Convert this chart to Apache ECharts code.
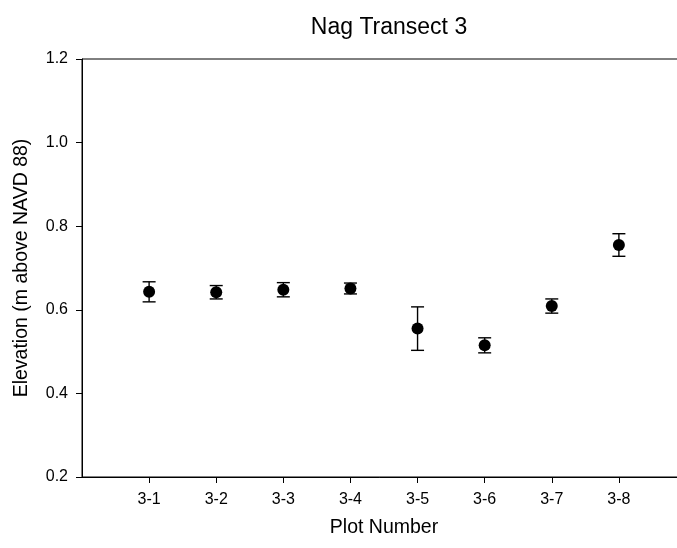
<!DOCTYPE html>
<html>
<head>
<meta charset="utf-8">
<script src="https://cdn.jsdelivr.net/npm/echarts@6/dist/echarts.min.js"></script>
<style>
  html, body { margin: 0; padding: 0; background: #fff; }
  #chart { width: 677px; height: 548px; }
</style>
</head>
<body>
<div id="chart"></div>
<script>
// Plot labels along the transect
const plots = ['3-1', '3-2', '3-3', '3-4', '3-5', '3-6', '3-7', '3-8'];
// Mean elevation per plot (m above NAVD 88)
const elevation = [0.643, 0.642, 0.648, 0.651, 0.555, 0.515, 0.609, 0.755];
// Error (±) per plot
const errors = [0.024, 0.016, 0.017, 0.013, 0.052, 0.018, 0.017, 0.027];
// Y axis tick values
const yTicks = [0.2, 0.4, 0.6, 0.8, 1.0, 1.2];

const FONT = "'Liberation Sans', Arial, sans-serif";
const positions = plots.map((_, i) => i + 1);

const points = positions.map((x, i) => [x, elevation[i]]);
const bars = positions.map((x, i) => [x, elevation[i] - errors[i], elevation[i] + errors[i]]);

const chart = echarts.init(document.getElementById('chart'), null, { renderer: 'canvas' });

chart.setOption({
  animation: false,
  backgroundColor: '#fff',
  title: {
    text: 'Nag Transect 3',
    left: 384,
    textAlign: 'center',
    top: 11,
    textStyle: { fontFamily: FONT, fontSize: 23, fontWeight: 'normal', color: '#000' }
  },
  // the frame runs past the right edge of the page
  grid: {
    left: 82, top: 59, width: 604, height: 418,
    outerBoundsMode: 'none',
    containLabel: false,
    show: true, borderColor: '#000', borderWidth: 1, backgroundColor: 'transparent'
  },
  xAxis: {
    type: 'value',
    min: 0, max: 9, interval: 1,
    name: 'Plot Number',
    nameLocation: 'middle',
    nameGap: 41,
    nameTextStyle: { fontFamily: FONT, fontSize: 19.5, color: '#000' },
    axisLine: { show: true, lineStyle: { color: '#000', width: 1 } },
    axisTick: { show: true, length: 6, lineStyle: { color: '#000' }, customValues: positions },
    axisLabel: {
      customValues: positions,
      margin: 15,
      fontFamily: FONT, fontSize: 16, color: '#000',
      formatter: v => plots[Math.round(v) - 1] || ''
    },
    splitLine: { show: false }
  },
  yAxis: {
    type: 'value',
    min: yTicks[0], max: yTicks[yTicks.length - 1], interval: 0.2,
    name: 'Elevation (m above NAVD 88)',
    nameLocation: 'middle',
    nameGap: 50,
    nameTextStyle: { fontFamily: FONT, fontSize: 19.5, color: '#000' },
    axisLine: { show: true, lineStyle: { color: '#000', width: 1 } },
    axisTick: { show: true, length: 6, lineStyle: { color: '#000' } },
    axisLabel: {
      margin: 14,
      fontFamily: FONT, fontSize: 16, color: '#000',
      formatter: v => v.toFixed(1)
    },
    splitLine: { show: false }
  },
  series: [
    {
      type: 'custom',
      name: 'error',
      data: bars,
      z: 2,
      clip: false,
      renderItem: (params, api) => {
        const x = api.value(0);
        const lo = api.coord([x, api.value(1)]);
        const hi = api.coord([x, api.value(2)]);
        const half = 6.5;
        const style = { stroke: '#000', lineWidth: 1.4 };
        return {
          type: 'group',
          children: [
            { type: 'line', shape: { x1: lo[0], y1: lo[1], x2: hi[0], y2: hi[1] }, style },
            { type: 'line', shape: { x1: hi[0] - half, y1: hi[1], x2: hi[0] + half, y2: hi[1] }, style },
            { type: 'line', shape: { x1: lo[0] - half, y1: lo[1], x2: lo[0] + half, y2: lo[1] }, style }
          ]
        };
      }
    },
    {
      type: 'scatter',
      name: 'Elevation',
      data: points,
      symbol: 'circle',
      symbolSize: 12,
      z: 3,
      itemStyle: { color: '#000', opacity: 1 }
    }
  ]
});
</script>
</body>
</html>
